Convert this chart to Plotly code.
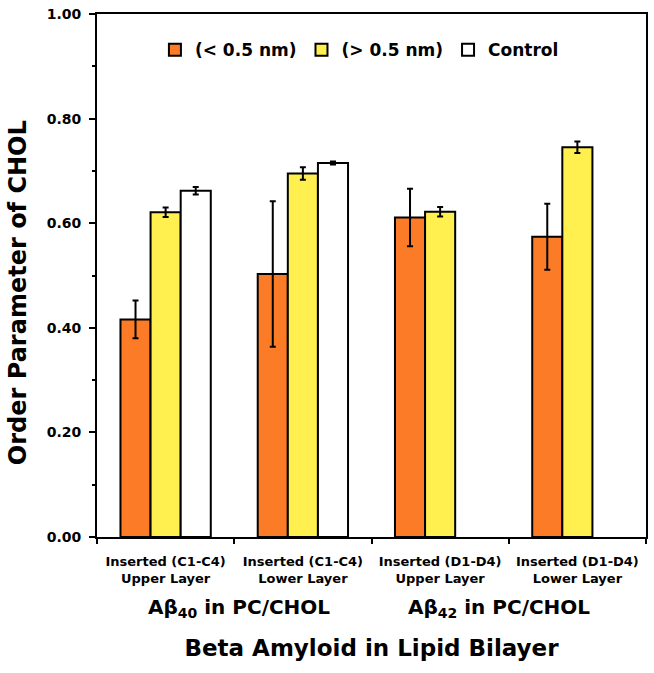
import plotly.graph_objects as go

categories = ["Inserted (C1-C4)<br>Upper Layer", "Inserted (C1-C4)<br>Lower Layer",
              "Inserted (D1-D4)<br>Upper Layer", "Inserted (D1-D4)<br>Lower Layer"]
series_names = ["(< 0.5 nm)", "(> 0.5 nm)", "Control"]
lt05 = [0.416, 0.503, 0.611, 0.574]
lt05_err = [0.036, 0.139, 0.055, 0.063]
gt05 = [0.621, 0.695, 0.622, 0.745]
gt05_err = [0.009, 0.012, 0.009, 0.011]
control = [0.662, 0.715, None, None]
control_err = [0.007, 0.003, None, None]
group_labels = ["Aβ<sub>40</sub> in PC/CHOL", "Aβ<sub>42</sub> in PC/CHOL"]
y_ticks = [0.0, 0.2, 0.4, 0.6, 0.8, 1.0]

FONT = "DejaVu Sans, Liberation Sans, Arial, sans-serif"
colors = ["#FC7B26", "#FFF04F", "#FFFFFF"]

fig = go.Figure()
for name, vals, errs, col in zip(series_names, [lt05, gt05, control],
                                  [lt05_err, gt05_err, control_err], colors):
    fig.add_trace(go.Bar(
        x=categories, y=vals, name=name,
        marker=dict(color=col, line=dict(color="black", width=2)),
        error_y=dict(type="data", array=errs, visible=True, color="black",
                     thickness=2, width=3),
    ))

fig.update_layout(
    width=654, height=673,
    margin=dict(l=97, r=6, t=12, b=136),
    paper_bgcolor="white", plot_bgcolor="white",
    barmode="group", bargap=0.342, bargroupgap=0,
    font=dict(family=FONT, color="black"),
    showlegend=True,
    legend=dict(orientation="h", x=0.478, xanchor="center", y=0.931, yanchor="middle",
                font=dict(family=FONT, size=17, weight="bold", color="black"),
                bgcolor="rgba(0,0,0,0)", traceorder="normal"),
    xaxis=dict(
        showline=True, linecolor="black", linewidth=2, mirror=True,
        ticks="outside", ticklen=5, tickwidth=2, tickcolor="black",
        tickson="boundaries",
        tickfont=dict(family=FONT, size=13, weight="bold", color="black"),
        ticklabelstandoff=11,
        title=dict(text="Beta Amyloid in Lipid Bilayer", standoff=55,
                   font=dict(family=FONT, size=23, weight="bold", color="black")),
        showgrid=False, zeroline=False,
    ),
    yaxis=dict(
        range=[0, 1], tickvals=y_ticks, tickformat=".2f",
        showline=True, linecolor="black", linewidth=2, mirror=True,
        ticks="outside", ticklen=6, tickwidth=2, tickcolor="black",
        minor=dict(dtick=0.1, ticks="outside", ticklen=3, tickwidth=2, tickcolor="black"),
        tickfont=dict(family=FONT, size=14, weight="bold", color="black"),
        ticklabelstandoff=5, ticklabeloverflow="allow",
        showgrid=False, zeroline=False,
    ),
)

for lbl, xp in zip(group_labels, [0.2595, 0.7314]):
    fig.add_annotation(text=lbl, xref="paper", yref="paper", x=xp, y=-0.1359,
                       xanchor="center", yanchor="middle", showarrow=False,
                       font=dict(family=FONT, size=20, weight="bold", color="black"))

fig.add_annotation(text="Order Parameter of CHOL", xref="paper", yref="paper",
                   x=-0.145, y=0.467, xanchor="center", yanchor="middle",
                   textangle=-90, showarrow=False,
                   font=dict(family=FONT, size=24, weight="bold", color="black"))

# remove the browser's default 8px body margin so the figure fills the window exactly
fig.write_html("out.html", config={"displayModeBar": False},
               post_script="document.body.style.margin='0';document.body.style.padding='0';")
